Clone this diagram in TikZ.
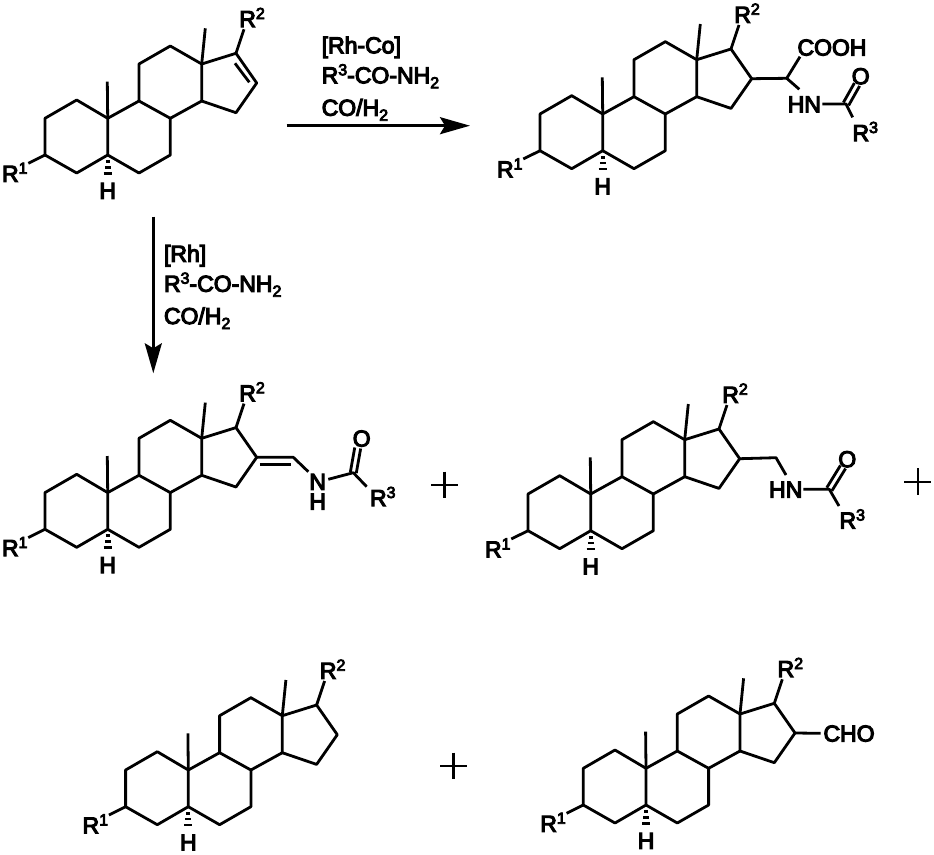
\documentclass[tikz,border=0pt]{standalone}
\usepackage{fontspec}
\setmainfont[FakeBold=5]{Liberation Sans}
\usetikzlibrary{arrows.meta,calc}
\tikzset{
  x=1pt,y=-1pt,
  bond/.style={line width=2.8pt,line join=round,black},
  rxn/.style={line width=2.8pt,black,-{Stealth[length=30pt,width=17pt,inset=5pt]}},
  lab/.style={inner sep=0pt,outer sep=0pt,anchor=base west,font=\fontsize{23}{23}\selectfont},
  clab/.style={inner sep=0pt,outer sep=0pt,anchor=base,font=\fontsize{23}{23}\selectfont},
  plusbar/.style={line width=2.4pt,black},
}
\newcommand{\rsup}[1]{\raisebox{8pt}{\fontsize{16}{16}\selectfont #1}}
\newcommand{\rsub}[1]{\raisebox{-5pt}{\fontsize{16}{16}\selectfont #1}}
\newcommand{\dblbond}[2]{%
  \draw[bond] ($(#1)!3pt!90:(#2)$) -- ($(#2)!3pt!-90:(#1)$);
  \draw[bond] ($(#1)!3pt!-90:(#2)$) -- ($(#2)!3pt!90:(#1)$);}
\newcommand{\steroid}[3]{%
\begin{scope}[shift={(#2,#3)},name prefix=#1-]
  \coordinate (c1) at (76.7,100); \coordinate (c2) at (45,118.3);
  \coordinate (c3) at (45,155); \coordinate (c4) at (76.7,173);
  \coordinate (c5) at (107.7,155); \coordinate (c6) at (139,173);
  \coordinate (c7) at (170.3,155); \coordinate (c8) at (170.3,118.3);
  \coordinate (c9) at (139,101); \coordinate (c10) at (107.7,118.3);
  \coordinate (c11) at (139,64); \coordinate (c12) at (170.3,46);
  \coordinate (c13) at (201.7,64); \coordinate (c14) at (201.7,101);
  \coordinate (c15) at (236,112.7); \coordinate (c16) at (256.7,83);
  \coordinate (c17) at (236,53.3);
  \coordinate (me10) at (107.3,81.7); \coordinate (me13) at (205.3,28.3);
  \coordinate (r1b) at (28.3,163.3); \coordinate (r2b) at (244,29.3);
  \draw[bond] (c1)--(c2)--(c3)--(c4)--(c5)--(c10)--cycle;
  \draw[bond] (c5)--(c6)--(c7)--(c8)--(c9)--(c10);
  \draw[bond] (c9)--(c11)--(c12)--(c13)--(c14)--(c8);
  \draw[bond] (c14)--(c15)--(c16)--(c17)--(c13);
  \draw[bond] (c10)--(me10);
  \draw[bond] (c13)--(me13);
  \draw[bond] (c3)--(r1b);
  \draw[bond] (c17)--(r2b);
  \coordinate (h1) at (105.8,161.5); \coordinate (h1e) at (109.6,161.5);
  \coordinate (h2) at (104.8,167.3); \coordinate (h2e) at (110.6,167.3);
  \coordinate (h3) at (103.7,173.3); \coordinate (h3e) at (111.7,173.3);
  \draw[bond] (h1)--(h1e); \draw[bond] (h2)--(h2e); \draw[bond] (h3)--(h3e);
  \node[clab] (hl) at (107.7,198.7) {H};
  \node[lab] (r1) at (2,181.7) {R\rsup{1}};
  \node[lab] (r2) at (239.3,27) {R\rsup{2}};
\end{scope}}
\newcommand{\plusmark}[3]{%
  \coordinate (#1l) at ($(#2,#3)+(-13.3,0)$);
  \coordinate (#1r) at ($(#2,#3)+(13.3,0)$);
  \coordinate (#1t) at ($(#2,#3)+(0,-13.3)$);
  \coordinate (#1b) at ($(#2,#3)+(0,13.3)$);
  \draw[plusbar] (#1l)--(#1r); \draw[plusbar] (#1t)--(#1b);}
\begin{document}
\begin{tikzpicture}
\useasboundingbox (0,0) rectangle (934,854);
% Molecule 1
\steroid{a}{0}{0}
\coordinate (a-d1) at (235,63.3); \coordinate (a-d2) at (249.3,82.3);
\draw[bond] (a-d1)--(a-d2);
% Molecule 2
\steroid{b}{495}{-4.3}
\coordinate (b-x) at (786.7,78.3);
\coordinate (b-y) at (800,56.7);
\coordinate (b-z) at (799.3,89.3);
\coordinate (b-n) at (822.3,104);
\coordinate (b-c) at (846,104);
\coordinate (b-o) at (857,84.5);
\coordinate (b-r) at (852.7,117.3);
\draw[bond] (b-c16)--(b-x)--(b-y);
\draw[bond] (b-x)--(b-z);
\draw[bond] (b-n)--(b-c)--(b-r);
\dblbond{b-c}{b-o}
\node[lab] (b-cooh) at (797.5,55.5) {COOH};
\node[clab] (b-hn) at (804.3,112.2) {HN};
\node[clab] (b-ol) at (860.7,84.2) {O};
\node[lab] (b-r3) at (852.5,141) {R\rsup{3}};
% Molecule 3
\steroid{c}{0}{374.3}
\coordinate (c-ch) at (293.3,457.3);
\coordinate (c-n) at (308.3,471.7);
\coordinate (c-nb) at (328.3,479.3);
\coordinate (c-c) at (353.3,472.7);
\coordinate (c-o) at (357.7,448);
\coordinate (c-r) at (366.7,486.7);
\coordinate (c-d1) at (259.8,464.2);
\coordinate (c-d2) at (290.7,464.2);
\draw[bond] (c-c16)--(c-ch)--(c-n);
\draw[bond] (c-d1)--(c-d2);
\draw[bond] (c-nb)--(c-c)--(c-r);
\dblbond{c-c}{c-o}
\node[clab] (c-nl) at (317.7,489.7) {N};
\node[clab] (c-hl) at (317.7,509.5) {H};
\node[clab] (c-ol) at (361.7,446.5) {O};
\node[lab] (c-r3) at (370,506) {R\rsup{3}};
\plusmark{p1}{444.3}{485}
% Molecule 4
\steroid{d}{483}{375.7}
\coordinate (d-x) at (776,457.7);
\coordinate (d-y) at (786,475);
\coordinate (d-n) at (803.3,489.3);
\coordinate (d-c) at (829.3,489.3);
\coordinate (d-o) at (843,467);
\coordinate (d-r) at (839,506);
\draw[bond] (d-c16)--(d-x)--(d-y);
\draw[bond] (d-n)--(d-c)--(d-r);
\dblbond{d-c}{d-o}
\node[clab] (d-hn) at (785.7,497.5) {HN};
\node[clab] (d-ol) at (847.3,467.2) {O};
\node[lab] (d-r3) at (839.5,528.5) {R\rsup{3}};
\plusmark{p2}{917.7}{481.7}
% Molecule 5
\steroid{e}{80.6}{651.7}
\plusmark{p3}{453.3}{766}
% Molecule 6
\steroid{f}{538.3}{650}
\coordinate (f-x) at (820.7,733.3);
\draw[bond] (f-c16)--(f-x);
\node[lab] (f-cho) at (823.5,741.5) {CHO};
% Arrows
\coordinate (ah1) at (286.7,125.7); \coordinate (ah2) at (470,125.7);
\draw[rxn] (ah1)--(ah2);
\coordinate (av1) at (153.3,216.7); \coordinate (av2) at (153.3,373.3);
\draw[rxn] (av1)--(av2);
% Conditions
\node[lab] (t1) at (321.7,53.3) {[Rh-Co]};
\node[lab] (t2) at (321.7,83.3) {R\rsup{3}-CO-NH\rsub{2}};
\node[lab] (t3) at (321.7,115.7) {CO/H\rsub{2}};
\node[lab] (t4) at (164,261.7) {[Rh]};
\node[lab] (t5) at (164,291.7) {R\rsup{3}-CO-NH\rsub{2}};
\node[lab] (t6) at (164,324) {CO/H\rsub{2}};
\end{tikzpicture}
\end{document}
